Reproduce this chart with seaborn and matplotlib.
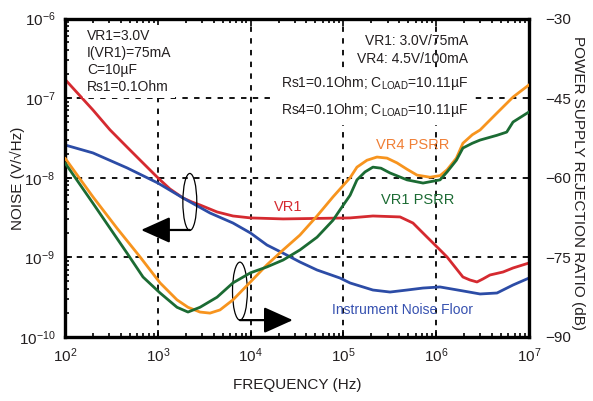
import matplotlib
matplotlib.use("Agg")
import matplotlib.pyplot as plt
import seaborn as sns
from matplotlib.patches import Ellipse
from matplotlib.ticker import FixedLocator, LogLocator, NullFormatter

# ---------------- data ----------------
vr1_freq = [100, 200, 305, 466, 643, 1000, 1352, 1870, 2340, 2850, 4350, 6460, 1.0e4,
            2.24e4, 1.18e5, 2.08e5, 4.08e5, 5.62e5, 7.96e5, 1.1e6, 1.31e6, 1.94e6,
            2.31e6, 2.75e6, 3.19e6, 3.8e6, 5.25e6, 6.73e6, 1.0e7]
vr1_noise = [1.72e-7, 7.1e-8, 4.0e-8, 2.43e-8, 1.67e-8, 1.0e-8, 7.23e-9, 5.57e-9,
             4.95e-9, 4.55e-9, 3.72e-9, 3.31e-9, 3.13e-9, 3.04e-9, 3.13e-9, 3.31e-9,
             3.22e-9, 2.70e-9, 1.80e-9, 1.24e-9, 1.01e-9, 5.67e-10, 5.2e-10, 4.91e-10,
             5.36e-10, 6.01e-10, 6.55e-10, 7.36e-10, 8.5e-10]

floor_freq = [100, 200, 466, 1000, 1870, 3650, 6460, 1.0e4, 1.5e4, 2.24e4, 3.4e4,
              5.2e4, 9.2e4, 1.18e5, 2.08e5, 3.18e5, 4.85e5, 7.21e5, 1.1e6, 1.94e6,
              2.97e6, 4.52e6, 6.73e6, 1.0e7]
floor_noise = [2.58e-8, 2.05e-8, 1.33e-8, 8.6e-9, 5.57e-9, 3.61e-9, 2.70e-9, 2.02e-9,
               1.43e-9, 1.13e-9, 8.75e-10, 6.94e-10, 5.5e-10, 4.77e-10, 3.89e-10,
               3.67e-10, 3.89e-10, 4.12e-10, 4.25e-10, 3.79e-10, 3.47e-10, 3.57e-10,
               4.5e-10, 5.5e-10]

vr4_psrr_freq = [100, 200, 363, 643, 1057, 1610, 2115, 2850, 3650, 4680, 6460, 1.0e4,
                 1.5e4, 2.24e4, 3.4e4, 5.2e4, 7.73e4, 1.18e5, 1.4e5, 1.795e5, 2.3e5,
                 2.95e5, 3.78e5, 4.85e5, 6.21e5, 8.57e5, 1.1e6, 1.31e6, 1.65e6, 1.94e6,
                 2.45e6, 2.97e6, 4.52e6, 6.73e6, 1.0e7]
vr4_psrr_db = [-56.3, -63.6, -69.5, -74.9, -79.8, -83.0, -84.4, -85.3, -85.5, -84.9,
               -83.0, -79.6, -76.4, -73.6, -70.8, -67.2, -63.6, -60.0, -58.0, -56.7,
               -56.1, -56.3, -57.2, -58.4, -59.5, -59.9, -59.6, -58.5, -56.3, -53.5,
               -51.9, -51.0, -47.8, -44.8, -42.5]

vr1_psrr_freq = [100, 200, 466, 693, 1057, 1610, 2115, 2850, 4350, 6460, 1.0e4, 1.5e4,
                 2.24e4, 3.4e4, 5.2e4, 7.73e4, 9.4e4, 1.18e5, 1.4e5, 1.71e5, 2.08e5,
                 2.54e5, 3.18e5, 4.85e5, 7.21e5, 1.1e6, 1.31e6, 1.65e6, 1.94e6, 2.45e6,
                 2.97e6, 4.52e6, 5.75e6, 6.73e6, 1.0e7]
vr1_psrr_db = [-57.2, -64.8, -74.2, -78.7, -81.7, -84.4, -85.3, -84.4, -82.5, -79.8,
               -77.9, -76.8, -75.5, -73.6, -71.2, -68.0, -65.8, -63.3, -60.4, -58.9,
               -58.0, -58.2, -59.1, -60.4, -61.0, -60.4, -58.9, -56.7, -54.4, -53.5,
               -52.9, -52.0, -51.4, -49.5, -47.6]

freq_ticks = [1e2, 1e3, 1e4, 1e5, 1e6, 1e7]
freq_tick_labels = [r"$10^{2}$", r"$10^{3}$", r"$10^{4}$", r"$10^{5}$", r"$10^{6}$", r"$10^{7}$"]
noise_ticks = [1e-10, 1e-9, 1e-8, 1e-7, 1e-6]
noise_tick_labels = [r"$10^{-10}$", r"$10^{-9}$", r"$10^{-8}$", r"$10^{-7}$", r"$10^{-6}$"]
psrr_ticks = [-90, -75, -60, -45, -30]

# ---------------- style ----------------
sns.set_style("ticks")
plt.rcParams['font.family'] = ['Liberation Sans', 'DejaVu Sans']
plt.rcParams['mathtext.fontset'] = 'custom'
plt.rcParams['mathtext.rm'] = 'Liberation Sans'
plt.rcParams['mathtext.it'] = 'Liberation Sans:italic'
plt.rcParams['mathtext.bf'] = 'Liberation Sans:bold'
plt.rcParams['text.color'] = '#231f20'
plt.rcParams['axes.edgecolor'] = 'black'
plt.rcParams['xtick.color'] = 'black'
plt.rcParams['ytick.color'] = 'black'
plt.rcParams['xtick.labelcolor'] = '#231f20'
plt.rcParams['ytick.labelcolor'] = '#231f20'

RED = '#d52a30'
BLUE = '#2c4ca6'
ORANGE = '#f7941e'
GREEN = '#1b6b33'
LW = 2.0

fig = plt.figure(figsize=(5.93, 4.01), dpi=100)
ax = fig.add_axes([65 / 593, 1 - 337 / 401, 464 / 593, 318.5 / 401])
ax.set_xscale('log')
ax.set_yscale('log')

sns.lineplot(x=vr1_freq, y=vr1_noise, ax=ax, color=RED, lw=LW)
sns.lineplot(x=floor_freq, y=floor_noise, ax=ax, color=BLUE, lw=LW)

ax.set_xlim(1e2, 1e7)
ax.set_ylim(1e-10, 1e-6)
ax.xaxis.set_major_locator(FixedLocator(freq_ticks))
ax.set_xticklabels(freq_tick_labels)
ax.xaxis.set_minor_locator(LogLocator(base=10, subs=range(2, 10), numticks=50))
ax.xaxis.set_minor_formatter(NullFormatter())
ax.yaxis.set_major_locator(FixedLocator(noise_ticks))
ax.set_yticklabels(noise_tick_labels)
ax.yaxis.set_minor_locator(LogLocator(base=10, subs=range(2, 10), numticks=50))
ax.yaxis.set_minor_formatter(NullFormatter())
ax.tick_params(which='both', direction='in', top=True, right=True,
               labelright=False, labeltop=False)
ax.tick_params(which='major', length=5, width=1.2, labelsize=11, pad=7)
ax.tick_params(which='minor', length=3, width=1.2)
ax.set_xlabel('')
ax.set_ylabel('')
ax.grid(True, which='major', color='black', lw=1.3, ls=(0, (3, 3.5)))
ax.set_axisbelow(True)
for s in ax.spines.values():
    s.set_linewidth(2.4)
    s.set_zorder(5)

ax2 = ax.twinx()
sns.lineplot(x=vr4_psrr_freq, y=vr4_psrr_db, ax=ax2, color=ORANGE, lw=LW)
sns.lineplot(x=vr1_psrr_freq, y=vr1_psrr_db, ax=ax2, color=GREEN, lw=LW)
ax2.set_xscale('log')
ax2.set_xlim(1e2, 1e7)
ax2.set_ylim(-90, -30)
ax2.set_yticks(psrr_ticks)
ax2.tick_params(axis='y', length=0, labelsize=11, pad=12)
ax2.set_ylabel('')
for s in ax2.spines.values():
    s.set_visible(False)

# ---------------- annotations ----------------
ax2.text(0.047, 0.966, "VR1=3.0V\nI(VR1)=75mA\nC=10\u00b5F\nRs1=0.1Ohm",
         transform=ax2.transAxes, ha='left', va='top', fontsize=10, linespacing=1.25,
         bbox=dict(facecolor='white', edgecolor='none', pad=3), zorder=4)
ax2.text(0.869, 0.929, "VR1: 3.0V/75mA", transform=ax2.transAxes,
         ha='right', va='center', fontsize=10)
ax2.text(0.869, 0.873, "VR4: 4.5V/100mA", transform=ax2.transAxes,
         ha='right', va='center', fontsize=10)
ax2.text(0.869, 0.755,
         "Rs1=0.1Ohm; C$_{\\mathrm{LOAD}}$=10.11\u00b5F\nRs4=0.1Ohm; C$_{\\mathrm{LOAD}}$=10.11\u00b5F",
         transform=ax2.transAxes, ha='right', va='center', fontsize=10,
         linespacing=1.7, bbox=dict(facecolor='white', edgecolor='none', pad=4), zorder=4)

ax2.text(0.481, 0.408, "VR1", transform=ax2.transAxes, ha='center', va='center',
         fontsize=10.5, color=RED)
ax2.text(0.750, 0.603, "VR4 PSRR", transform=ax2.transAxes, ha='center', va='center',
         fontsize=10.5, color='#f07f35')
ax2.text(0.761, 0.430, "VR1 PSRR", transform=ax2.transAxes, ha='center', va='center',
         fontsize=10.5, color=GREEN)
ax2.text(0.727, 0.085, "Instrument Noise Floor", transform=ax2.transAxes,
         ha='center', va='center', fontsize=10, color='#3651b0')

# ellipses + arrows
ax2.add_patch(Ellipse((0.269, 0.424), 0.030, 0.179, transform=ax2.transAxes,
                      fill=False, ec='black', lw=0.9))
ax2.add_patch(Ellipse((0.377, 0.144), 0.032, 0.182, transform=ax2.transAxes,
                      fill=False, ec='black', lw=0.9))
ax2.annotate("", xy=(0.164, 0.336), xytext=(0.269, 0.336), xycoords='axes fraction',
             textcoords='axes fraction',
             arrowprops=dict(arrowstyle='-|>,head_length=1.0,head_width=0.45',
                             color='black', lw=1.6, mutation_scale=18,
                             shrinkA=0, shrinkB=0))
ax2.annotate("", xy=(0.491, 0.053), xytext=(0.377, 0.053), xycoords='axes fraction',
             textcoords='axes fraction',
             arrowprops=dict(arrowstyle='-|>,head_length=1.0,head_width=0.45',
                             color='black', lw=1.6, mutation_scale=18,
                             shrinkA=0, shrinkB=0))

# axis labels
fig.text(297 / 593, 1 - 385 / 401, "FREQUENCY (Hz)", ha='center', va='center', fontsize=11)
fig.text(17 / 593, 1 - 178 / 401, "NOISE (V/\u221aHz)", ha='center', va='center',
         rotation=90, fontsize=11)
fig.text(578 / 593, 1 - 183 / 401, "POWER SUPPLY REJECTION RATIO (dB)", ha='center',
         va='center', rotation=270, fontsize=11)

fig.savefig("out.png", dpi=100)
